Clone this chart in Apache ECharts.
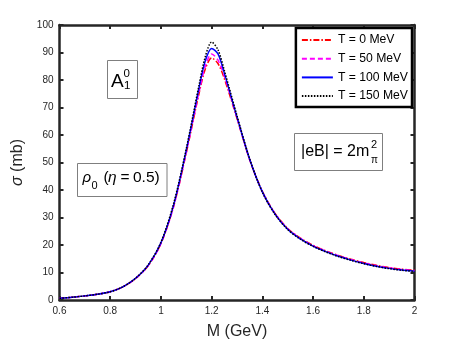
<!DOCTYPE html>
<html>
<head>
<meta charset="utf-8">
<script src="https://cdn.jsdelivr.net/npm/echarts@6/dist/echarts.min.js"></script>
<style>
html,body{margin:0;padding:0;background:#fff;}
#chart{width:458px;height:343px;}
</style>
</head>
<body>
<div id="chart"></div>
<script>
// masse M (GeV)
var masses = [0.6,0.65,0.7,0.75,0.8,0.85,0.9,0.95,1.0,1.05,1.1,1.15,1.175,1.2,1.225,1.25,1.3,1.35,1.4,1.45,1.5,1.55,1.6,1.65,1.7,1.75,1.8,1.85,1.9,1.95,2.0];
// sigma (mb) pour chaque temperature
var sigT0   = [0.6,1.0,1.5,2.1,3.0,4.8,7.8,12.5,20.5,34,53.5,75,84,88,86,80.5,66,51,39.5,31.5,26,22.5,19.9,17.9,16.2,14.8,13.6,12.6,11.8,11.2,10.8];
var sigT50  = [0.6,1.0,1.5,2.1,3.0,4.8,7.8,12.5,20.5,34,53.7,75.5,85,89.5,87.2,81.5,66.2,51,39.4,31.4,25.9,22.4,19.8,17.8,16.1,14.7,13.5,12.5,11.7,11.1,10.7];
var sigT100 = [0.6,1.0,1.5,2.1,3.0,4.8,7.9,12.7,20.8,34.5,54.5,77,87,91.5,89.5,82.5,66.5,51.2,39.3,31.2,25.7,22.2,19.6,17.6,15.9,14.5,13.3,12.3,11.5,10.9,10.5];
var sigT150 = [0.6,1.0,1.5,2.1,3.0,4.8,7.9,12.8,21,35,55,78,88.5,93.8,91,83.5,67,51.3,39.2,31.1,25.6,22.1,19.5,17.5,15.8,14.4,13.2,12.2,11.4,10.8,10.4];
var legendNames = ['T = 0 MeV','T = 50 MeV','T = 100 MeV','T = 150 MeV'];
var xTicks = {min:0.6, max:2, step:0.2};
var yTicks = {min:0, max:100, step:10};

function pairs(ys){
	var out=[];
	for(var i=0;i<masses.length;i++){ out.push([masses[i], ys[i]]); }
	return out;
}

var frame = '#262626';
var font = '"Liberation Sans", Arial, sans-serif';

function axisBase(pos, show){
	return {
		position: pos,
		axisLine: {show:true, onZero:false, lineStyle:{color:frame, width:2.5}},
		axisTick: {show:true, inside:true, length:4, lineStyle:{color:frame, width:2}},
		axisLabel: {show:show, color:'#262626', fontSize:10, fontFamily:font},
		splitLine: {show:false}
	};
}

var xBottom = axisBase('bottom', true);
xBottom.type='value'; xBottom.min=xTicks.min; xBottom.max=xTicks.max; xBottom.interval=xTicks.step;
xBottom.axisLabel.margin=6;
xBottom.axisLabel.formatter=function(v){ return String(parseFloat(v.toFixed(2))); };
xBottom.name='M (GeV)'; xBottom.nameLocation='middle'; xBottom.nameGap=24;
xBottom.nameTextStyle={color:'#262626', fontSize:16, fontFamily:font};
var xTop = axisBase('top', false);
xTop.type='value'; xTop.min=xTicks.min; xTop.max=xTicks.max; xTop.interval=xTicks.step;

var yLeft = axisBase('left', true);
yLeft.type='value'; yLeft.min=yTicks.min; yLeft.max=yTicks.max; yLeft.interval=yTicks.step;
yLeft.axisLabel.margin=6;
yLeft.name='{i|σ} (mb)'; yLeft.nameLocation='middle'; yLeft.nameGap=23;
yLeft.nameTextStyle={color:'#262626', fontSize:16, fontFamily:font, rich:{i:{fontStyle:'italic', fontSize:16, fontFamily:font, color:'#262626'}}};
var yRight = axisBase('right', false);
yRight.type='value'; yRight.min=yTicks.min; yRight.max=yTicks.max; yRight.interval=yTicks.step;

var styles = [
	{color:'#ff0000', type:[6,2,1.5,2], width:1.5},
	{color:'#ff00ff', type:[5,3], width:1.5},
	{color:'#0000ff', type:'solid', width:1.5},
	{color:'#000000', type:[1.5,1.5], width:1.5}
];
var datas = [sigT0, sigT50, sigT100, sigT150];
var series = [];
for(var k=0;k<4;k++){
	series.push({
		name: legendNames[k], type:'line', data: pairs(datas[k]),
		xAxisIndex:0, yAxisIndex:0,
		smooth:0.3, symbol:'none', animation:false,
		lineStyle: styles[k], itemStyle:{color:styles[k].color}
	});
}

function txt(x,y,s,size,italic){
	return {type:'text', x:x, y:y, z:10, style:{
		text:s, fontSize:size, fontFamily:font, fontStyle:italic?'italic':'normal',
		fill:'#000', verticalAlign:'middle', align:'left'
	}};
}
function box(x,y,w,h){
	return {type:'rect', shape:{x:x,y:y,width:w,height:h}, style:{fill:'#fff', stroke:'#7f7f7f', lineWidth:1}, z:9};
}

var chart = echarts.init(document.getElementById('chart'));
chart.setOption({
	backgroundColor:'#fff',
	animation:false,
	grid:{left:59.5, right:43.5, top:25, bottom:43, containLabel:false, outerBoundsMode:'none'},
	xAxis:[xBottom, xTop],
	yAxis:[yLeft, yRight],
	legend:{
		orient:'vertical', right:46, top:28,
		data: legendNames,
		itemWidth:31, itemHeight:12, itemGap:6.7,
		padding:[6,4,5,5],
		borderColor:'#000', borderWidth:2.5, backgroundColor:'#fff',
		itemStyle:{opacity:0},
		textStyle:{fontSize:12.2, fontFamily:font, color:'#000'},
		selectedMode:false
	},
	graphic:[
		box(107.5,60.5,30,38),
		txt(111,81.5,'A',19),
		txt(123.5,74,'0',11.5),
		txt(124,85.5,'1',11.5),
		box(77.5,163.5,89.5,33),
		txt(82.5,178,'ρ',15,true),
		txt(91.5,186,'0',11),
		txt(103.5,178,'(',15.5),
		txt(108,178,'η',15.5,true),
		txt(120.5,178,'=',15.5),
		txt(133,178,'0.5)',15.5),
		box(294.5,133.5,88,37),
		txt(301,151.5,'|eB| = 2m',16),
		txt(371,145,'2',11),
		txt(371,160,'π',10)
	],
	series: series
});
</script>
</body>
</html>
